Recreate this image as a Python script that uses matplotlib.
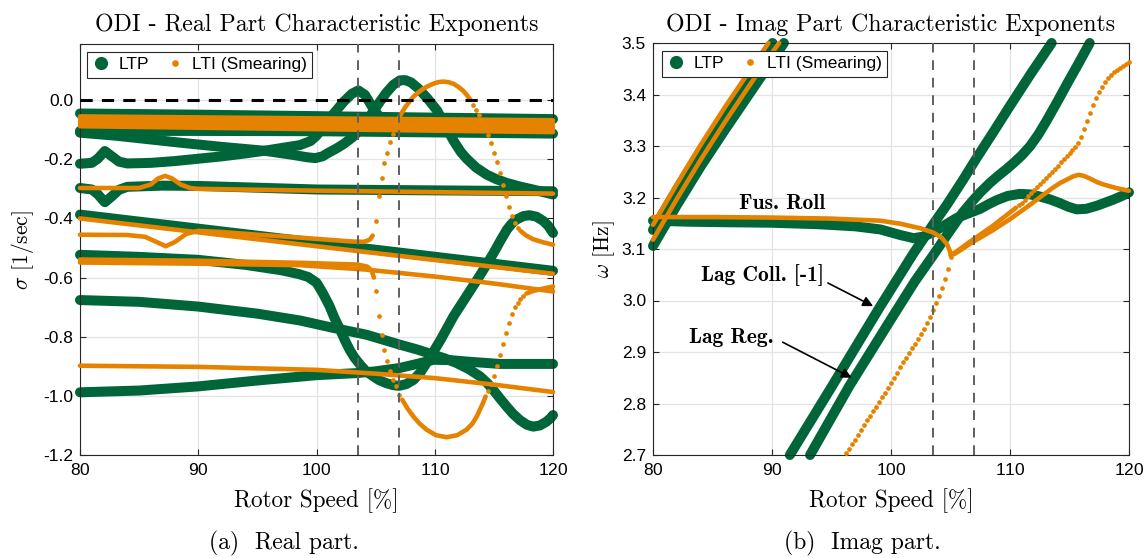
import matplotlib
matplotlib.use("Agg")
import matplotlib.pyplot as plt
from matplotlib.lines import Line2D
from matplotlib.ticker import FormatStrFormatter, FixedLocator

plt.rcParams['mathtext.fontset'] = 'cm'
plt.rcParams['axes.unicode_minus'] = False
plt.rcParams['axes.formatter.use_mathtext'] = True

GREEN = '#00663a'
ORANGE = '#e58300'

# ---------------- LEFT PANEL (real part, sigma) ----------------
# LTP branches
ltp_top_x = [80, 90, 100, 110, 120]
ltp_top_y = [-0.045, -0.049, -0.054, -0.059, -0.064]
ltp_top2_x = [80, 90, 100, 110, 120]
ltp_top2_y = [-0.104, -0.104, -0.105, -0.109, -0.113]
ltp_v_x = [80, 83, 86, 88.3, 92, 95.6, 98, 99.2, 99.9, 100.5, 101, 101.7, 102.3, 103.0, 103.7,
           104.3, 104.8, 105.4, 105.9, 106.5, 107.06, 107.5, 108.0, 108.6, 109.4, 110.2, 110.8,
           111.6, 112.2, 112.7, 113.5, 114.4, 115.2, 116.1, 117.2, 118.3, 119.2, 120]
ltp_v_y = [-0.11, -0.12, -0.133, -0.143, -0.158, -0.171, -0.185, -0.193, -0.196, -0.19, -0.178,
           -0.163, -0.148, -0.127, -0.1, -0.068, -0.037, -0.003, 0.025, 0.052, 0.067, 0.068, 0.06,
           0.04, 0.005, -0.035, -0.08, -0.138, -0.175, -0.198, -0.228, -0.252, -0.267, -0.28,
           -0.292, -0.302, -0.311, -0.319]
ltp_hump_x = [80, 81, 81.5, 82.1, 82.7, 83.3, 84, 86, 88, 90, 92, 94, 95.6, 97, 98.6, 99.5, 100.0,
              100.7, 101.4, 102.3, 103.0, 103.54, 104.1, 104.67, 105.2, 105.8, 106.5]
ltp_hump_y = [-0.215, -0.212, -0.198, -0.172, -0.19, -0.208, -0.214, -0.212, -0.206, -0.198, -0.19,
              -0.18, -0.171, -0.162, -0.152, -0.138, -0.12, -0.085, -0.048, -0.005, 0.022, 0.033,
              0.018, -0.02, -0.05, -0.068, -0.08]
ltp_m30_x = [80, 81, 81.5, 82.1, 82.7, 83.3, 84, 87, 90, 95, 100, 110, 120]
ltp_m30_y = [-0.297, -0.302, -0.318, -0.345, -0.325, -0.303, -0.293, -0.289, -0.29, -0.296, -0.302,
             -0.305, -0.308]
ltp_l1_x = [80, 100, 120]
ltp_l1_y = [-0.387, -0.482, -0.577]
ltp_dive_x = [80, 85, 90, 94, 97, 98.5, 99.3, 100, 100.5, 101.1, 101.5, 102, 102.4, 102.8, 103.2,
              103.7, 104.2, 104.8, 105.3, 105.9, 106.5, 107, 107.6, 108.2, 108.8, 109.3, 109.9,
              110.5, 111.6, 112.7, 113.8, 114.4, 115, 115.6, 116.1, 116.5, 116.9, 117.5, 118,
              118.6, 119.2, 119.6, 120]
ltp_dive_y = [-0.523, -0.53, -0.54, -0.557, -0.575, -0.588, -0.598, -0.617, -0.65, -0.696, -0.735,
              -0.776, -0.812, -0.844, -0.87, -0.895, -0.917, -0.934, -0.947, -0.957, -0.964,
              -0.966, -0.96, -0.946, -0.92, -0.889, -0.85, -0.81, -0.73, -0.662, -0.594, -0.555,
              -0.515, -0.472, -0.438, -0.418, -0.404, -0.392, -0.389, -0.394, -0.409, -0.425,
              -0.449]
ltp_b_x = [80, 85, 90, 95, 98.6, 101.4, 104.2, 107.06, 108.5, 109.9, 110.9, 111.85, 112.9, 113.83,
           114.4, 114.95, 115.5, 116.08, 116.6, 117.2, 117.8, 118.33, 118.9, 119.46, 119.8, 120]
ltp_b_y = [-0.676, -0.682, -0.698, -0.722, -0.745, -0.77, -0.793, -0.827, -0.843, -0.861, -0.874,
           -0.889, -0.91, -0.934, -0.955, -0.98, -1.008, -1.036, -1.06, -1.082, -1.098, -1.104,
           -1.1, -1.087, -1.075, -1.065]
ltp_c_x = [80, 85, 90, 95, 100, 103.4, 105, 107, 108.5, 109.9, 111.3, 112.7, 115.5, 120]
ltp_c_y = [-0.988, -0.982, -0.968, -0.948, -0.93, -0.923, -0.917, -0.906, -0.892, -0.878, -0.879,
           -0.884, -0.892, -0.892]

# LTI (smearing) branches
lti_top_x = [80, 120]
lti_top1_y = [-0.055, -0.068]
lti_top2_y = [-0.063, -0.078]
lti_top3_y = [-0.072, -0.089]
lti_top4_y = [-0.080, -0.099]
lti_top5_y = [-0.088, -0.108]
lti_m30_x = [80, 85, 86, 86.6, 87.2, 87.8, 88.5, 89.3, 90, 100, 110, 120]
lti_m30_y = [-0.297, -0.297, -0.285, -0.265, -0.256, -0.265, -0.285, -0.297, -0.300, -0.306,
             -0.311, -0.316]
lti_l1_x = [80, 100, 120]
lti_l1_y = [-0.40, -0.494, -0.587]
lti_loop1_x = [80, 84, 85.5, 86.5, 87.25, 88, 89, 90, 92, 95, 98, 101, 103, 104, 104.5, 104.75]
lti_loop1_y = [-0.455, -0.456, -0.462, -0.48, -0.494, -0.48, -0.452, -0.442, -0.446, -0.455,
               -0.463, -0.472, -0.478, -0.479, -0.472, -0.458]
lti_loopdots1_x = [105.0, 105.25, 105.5, 105.75, 106.0, 106.25, 106.5, 106.75]
lti_loopdots1_y = [-0.409, -0.324, -0.262, -0.214, -0.177, -0.143, -0.115, -0.086]
lti_loop2_x = [107.0, 107.25, 107.5, 107.85, 108.2, 108.6, 109.0, 109.45, 109.9, 110.3, 110.7,
               111.15, 111.6, 112.0, 112.4, 112.7, 113.0]
lti_loop2_y = [-0.058, -0.04, -0.024, -0.005, 0.012, 0.026, 0.038, 0.048, 0.056, 0.061, 0.063,
               0.061, 0.055, 0.045, 0.032, 0.018, 0.002]
lti_loopdots2_x = [113.25, 113.5, 113.75, 114.0, 114.25, 114.5, 114.75, 115.0, 115.25, 115.5,
                   115.75, 116.0, 116.25, 116.5, 116.75, 117.0]
lti_loopdots2_y = [-0.017, -0.033, -0.05, -0.07, -0.093, -0.118, -0.145, -0.177, -0.209, -0.245,
                   -0.288, -0.324, -0.362, -0.392, -0.415, -0.432]
lti_loop3_x = [117.25, 117.7, 118.3, 119.2, 120]
lti_loop3_y = [-0.442, -0.457, -0.47, -0.481, -0.489]
lti_l2_x = [80, 90, 98.6, 104.2, 109.9, 115, 120]
lti_l2_y = [-0.549, -0.553, -0.558, -0.573, -0.596, -0.62, -0.647]
lti_bowl1_x = [80, 90, 98.6, 103.5, 104.3, 104.67, 104.85]
lti_bowl1_y = [-0.539, -0.543, -0.550, -0.556, -0.563, -0.576, -0.6]
lti_bowldots1_x = [105.0, 105.25, 105.5, 105.75, 106.0, 106.25, 106.5, 106.75, 107.0]
lti_bowldots1_y = [-0.645, -0.73, -0.795, -0.844, -0.883, -0.917, -0.946, -0.968, -0.997]
lti_bowl2_x = [107.25, 107.7, 108.2, 108.7, 109.3, 110.1, 111.0, 111.9, 112.7, 113.2, 113.55,
               114.05, 114.3]
lti_bowl2_y = [-1.013, -1.043, -1.07, -1.093, -1.114, -1.133, -1.14, -1.133, -1.114, -1.093,
               -1.07, -1.027, -1.002]
lti_bowldots2_x = [114.5, 114.75, 115.0, 115.25, 115.5, 115.75, 116.0, 116.25, 116.5, 116.75,
                   117.0, 117.25, 117.5]
lti_bowldots2_y = [-0.983, -0.96, -0.932, -0.899, -0.862, -0.824, -0.787, -0.752, -0.722, -0.701,
                   -0.685, -0.672, -0.662]
lti_bowl3_x = [117.75, 118.33, 119.2, 120]
lti_bowl3_y = [-0.654, -0.645, -0.637, -0.63]
lti_m90_x = [80, 90, 100, 105, 110, 115, 120]
lti_m90_y = [-0.898, -0.902, -0.912, -0.925, -0.94, -0.962, -0.987]

# ---------------- RIGHT PANEL (imag part, omega) ----------------
r_ltp_up1_x = [80, 82, 84, 86, 88, 90.05]
r_ltp_up1_y = [3.137, 3.215, 3.29, 3.36, 3.43, 3.5]
r_ltp_up2_x = [80, 82, 84, 86, 88, 90, 91.0]
r_ltp_up2_y = [3.106, 3.185, 3.26, 3.33, 3.398, 3.466, 3.5]
r_ltp_roll_x = [80, 83, 86, 90, 94, 97, 99.1, 100.8, 101.9, 102.7, 103.5, 104.5, 105.5, 106.6,
                107.5, 108.2, 108.9, 109.8, 110.8, 111.7, 112.5, 113.4, 114.2, 114.9, 115.6, 116.4,
                117.3, 118, 118.7, 119.4, 120]
r_ltp_roll_y = [3.155, 3.153, 3.152, 3.151, 3.148, 3.144, 3.138, 3.127, 3.121, 3.124, 3.132,
                3.146, 3.16, 3.17, 3.178, 3.187, 3.195, 3.203, 3.207, 3.206, 3.202, 3.196, 3.189,
                3.182, 3.177, 3.178, 3.184, 3.19, 3.196, 3.203, 3.21]
r_ltp_coll_x = [91.5, 95, 99, 101.9, 103.55, 104.7, 106.1, 107.2, 108.6, 110, 111.8, 113.5]
r_ltp_coll_y = [2.70, 2.832, 2.985, 3.092, 3.148, 3.186, 3.236, 3.277, 3.327, 3.378, 3.442, 3.5]
r_ltp_reg_x = [93.2, 96.5, 99.9, 102, 103.55, 104.7, 106, 106.8, 107.5, 108.3, 109, 109.7, 110.3,
               111, 111.7, 112.4, 113.1, 114, 114.9, 115.8, 116.7]
r_ltp_reg_y = [2.70, 2.834, 2.96, 3.037, 3.088, 3.127, 3.17, 3.192, 3.21, 3.228, 3.242, 3.255,
               3.267, 3.282, 3.3, 3.323, 3.35, 3.387, 3.425, 3.462, 3.5]

r_lti_up1_x = [80, 82, 84, 86, 88, 89.7]
r_lti_up1_y = [3.147, 3.226, 3.302, 3.374, 3.442, 3.5]
r_lti_up2_x = [80, 82, 84, 86, 88, 90, 90.6]
r_lti_up2_y = [3.118, 3.197, 3.273, 3.345, 3.414, 3.481, 3.5]
r_lti_roll_x = [80, 85, 90, 95, 98, 99.1, 100.8, 102.5, 103.55, 104.25, 104.68, 104.88, 105.0,
                105.3, 105.8, 106.5, 107.2, 108.6, 110.0, 111.4, 112.5, 113.6, 114.2, 114.8,
                115.3, 115.75, 116.2, 116.7, 117.3, 117.9, 118.5, 119.0, 120]
r_lti_roll_y = [3.162, 3.162, 3.161, 3.159, 3.156, 3.155, 3.149, 3.14, 3.132, 3.122, 3.11, 3.1,
                3.092, 3.09, 3.097, 3.108, 3.118, 3.137, 3.158, 3.181, 3.2, 3.219, 3.228, 3.235,
                3.241, 3.244, 3.242, 3.237, 3.23, 3.225, 3.221, 3.218, 3.213]
r_lti_lag_x = [96.25, 96.5, 96.75, 97.0, 97.25, 97.5, 97.75, 98.0, 98.25, 98.5, 98.75, 99.0,
               99.25, 99.5, 99.75, 100.0, 100.25, 100.5, 100.75, 101.0, 101.25, 101.5, 101.75,
               102.0, 102.25, 102.5, 102.75, 103.0, 103.25, 103.5, 103.75, 104.0, 104.25, 104.5,
               104.75, 105.0]
r_lti_lag_y = [2.703, 2.712, 2.721, 2.730, 2.739, 2.749, 2.758, 2.767, 2.776, 2.785, 2.794, 2.803,
               2.812, 2.821, 2.830, 2.840, 2.850, 2.860, 2.870, 2.880, 2.889, 2.898, 2.907, 2.916,
               2.925, 2.934, 2.945, 2.956, 2.968, 2.981, 2.995, 3.008, 3.024, 3.042, 3.062, 3.084]
r_lti_steep_x = [105.0, 105.5, 106.5, 107.5, 108.5, 109.5, 110.5]
r_lti_steep_y = [3.088, 3.095, 3.112, 3.128, 3.144, 3.162, 3.18]
r_lti_steepdots_x = [110.75, 111.0, 111.25, 111.5, 111.75, 112.0, 112.25, 112.5, 112.75, 113.0,
                     113.25, 113.5, 113.75, 114.0, 114.25, 114.5, 114.75, 115.0, 115.25, 115.5,
                     115.75, 116.0, 116.25, 116.5, 116.75, 117.0, 117.25, 117.5, 117.75, 118.0,
                     118.25, 118.5, 118.75, 119.0, 119.25, 119.5, 119.75, 120.0]
r_lti_steepdots_y = [3.185, 3.19, 3.196, 3.202, 3.208, 3.214, 3.22, 3.226, 3.232, 3.238, 3.244,
                     3.25, 3.256, 3.262, 3.268, 3.274, 3.28, 3.286, 3.292, 3.298, 3.305, 3.318,
                     3.333, 3.349, 3.365, 3.38, 3.394, 3.405, 3.415, 3.424, 3.432, 3.438, 3.443,
                     3.448, 3.452, 3.456, 3.46, 3.464]

crit_speeds = [103.5, 107.0]
left_yticks = [-1.2, -1.0, -0.8, -0.6, -0.4, -0.2, 0.0]
right_yticks = [2.7, 2.8, 2.9, 3.0, 3.1, 3.2, 3.3, 3.4, 3.5]
xticks = [80, 90, 100, 110, 120]

LTP_LW = 7.2
LTI_LW = 3.3
LTI_MS = 3.4

fig = plt.figure(figsize=(11.45, 5.58), dpi=100)
axL = fig.add_axes([80 / 1145, 103 / 558, 473 / 1145, 411 / 558])
axR = fig.add_axes([653 / 1145, 103 / 558, 476 / 1145, 412 / 558])


def ltp(ax, x, y):
    ax.plot(x, y, color=GREEN, lw=LTP_LW, solid_capstyle='round', solid_joinstyle='round',
            clip_on=False, zorder=2)


def lti(ax, x, y):
    ax.plot(x, y, color=ORANGE, lw=LTI_LW, solid_capstyle='round', solid_joinstyle='round',
            clip_on=False, zorder=3)


def lti_dots(ax, x, y):
    ax.plot(x, y, ls='none', marker='o', ms=LTI_MS, mew=0, color=ORANGE, clip_on=False, zorder=3)


# left LTP
for x, y in [(ltp_top_x, ltp_top_y), (ltp_top2_x, ltp_top2_y), (ltp_v_x, ltp_v_y),
             (ltp_hump_x, ltp_hump_y), (ltp_m30_x, ltp_m30_y), (ltp_l1_x, ltp_l1_y),
             (ltp_dive_x, ltp_dive_y), (ltp_b_x, ltp_b_y), (ltp_c_x, ltp_c_y)]:
    ltp(axL, x, y)
# left LTI
for x, y in [(lti_top_x, lti_top1_y), (lti_top_x, lti_top2_y), (lti_top_x, lti_top3_y),
             (lti_top_x, lti_top4_y), (lti_top_x, lti_top5_y),
             (lti_m30_x, lti_m30_y), (lti_l1_x, lti_l1_y), (lti_loop1_x, lti_loop1_y),
             (lti_loop2_x, lti_loop2_y), (lti_loop3_x, lti_loop3_y), (lti_l2_x, lti_l2_y),
             (lti_bowl1_x, lti_bowl1_y), (lti_bowl2_x, lti_bowl2_y), (lti_bowl3_x, lti_bowl3_y),
             (lti_m90_x, lti_m90_y)]:
    lti(axL, x, y)
for x, y in [(lti_loopdots1_x, lti_loopdots1_y), (lti_loopdots2_x, lti_loopdots2_y),
             (lti_bowldots1_x, lti_bowldots1_y), (lti_bowldots2_x, lti_bowldots2_y)]:
    lti_dots(axL, x, y)

# right LTP
for x, y in [(r_ltp_up1_x, r_ltp_up1_y), (r_ltp_up2_x, r_ltp_up2_y), (r_ltp_roll_x, r_ltp_roll_y),
             (r_ltp_coll_x, r_ltp_coll_y), (r_ltp_reg_x, r_ltp_reg_y)]:
    ltp(axR, x, y)
for x, y in [(r_lti_up1_x, r_lti_up1_y), (r_lti_up2_x, r_lti_up2_y), (r_lti_roll_x, r_lti_roll_y),
             (r_lti_steep_x, r_lti_steep_y)]:
    lti(axR, x, y)
for x, y in [(r_lti_lag_x, r_lti_lag_y), (r_lti_steepdots_x, r_lti_steepdots_y)]:
    lti_dots(axR, x, y)

# reference lines
axL.axhline(0.0, color='k', lw=2.2, ls=(0, (4, 3)), zorder=4)
for ax in (axL, axR):
    for xs in crit_speeds:
        ax.axvline(xs, color='#5f5f5f', lw=1.4, ls=(0, (5, 4)), zorder=4)

for ax, yl, yt in [(axL, (-1.2, 0.19), left_yticks), (axR, (2.7, 3.5), right_yticks)]:
    ax.set_xlim(80, 120)
    ax.set_ylim(*yl)
    ax.xaxis.set_major_locator(FixedLocator(xticks))
    ax.yaxis.set_major_locator(FixedLocator(yt))
    ax.yaxis.set_major_formatter(FormatStrFormatter('%.1f'))
    ax.grid(True, color='#e3e3e3', lw=0.9)
    ax.set_axisbelow(True)
    ax.tick_params(direction='in', length=4, width=0.8, top=True, right=True, colors='#262626',
                   labelcolor='black', pad=5)
    for lab in ax.get_xticklabels() + ax.get_yticklabels():
        lab.set_fontfamily('Liberation Sans')
        lab.set_fontsize(12.5)
    for s in ax.spines.values():
        s.set_color('#262626')
        s.set_linewidth(0.8)
    ax.set_xlabel('Rotor Speed [%]', family='cmr10', size=16.7)
    ax.xaxis.set_label_coords(0.5, -0.11)
    ax.xaxis.label.set_va('center')

axL.set_ylabel(r'$\sigma$ [1/sec]', family='cmr10', size=15.5)
axL.yaxis.set_label_coords((23 - 80) / 473, 0.5)
axR.set_ylabel(r'$\omega$ [Hz]', family='cmr10', size=15.5)
axR.yaxis.set_label_coords((604 - 653) / 476, 0.5)
for ax in (axL, axR):
    ax.yaxis.label.set_va('center')

axL.text(0.5, (455 - 25) / 411, 'ODI - Real Part Characteristic Exponents', transform=axL.transAxes,
         ha='center', va='center', family='cmr10', size=17.2)
axR.text(0.5, (455 - 25) / 412, 'ODI - Imag Part Characteristic Exponents', transform=axR.transAxes,
         ha='center', va='center', family='cmr10', size=17.2)

# legends
handles = [Line2D([], [], ls='none', marker='o', ms=9.5, mew=0, color=GREEN),
           Line2D([], [], ls='none', marker='o', ms=4.8, mew=0, color=ORANGE)]
for ax, ox in [(axL, 7 / 473), (axR, 9 / 476)]:
    leg = ax.legend(handles, ['LTP', 'LTI (Smearing)'], loc='upper left',
                    bbox_to_anchor=(ox, 1 - 8 / 411), borderaxespad=0, ncol=2, frameon=True,
                    fancybox=False, edgecolor='#262626', framealpha=1, handlelength=1.0,
                    handletextpad=0.5, columnspacing=1.0, borderpad=0.3,
                    prop=dict(family='Liberation Sans', size=12.5))
    leg.get_frame().set_linewidth(0.8)
    leg.set_zorder(6)

# annotations on the imag panel
ann = dict(family='cmb10', size=15.5, ha='center', va='center', zorder=6)
axR.text(90.84, 3.189, 'Fus. Roll', **ann)
axR.text(89.2, 3.05, 'Lag Coll. [-1]', **ann)
axR.text(86.6, 2.929, 'Lag Reg.', **ann)
arrow = dict(arrowstyle='-|>', color='k', lw=1.2, mutation_scale=15, shrinkA=0, shrinkB=0)
axR.annotate('', xy=(98.5, 2.989), xytext=(94.7, 3.034), arrowprops=arrow, zorder=6)
axR.annotate('', xy=(96.7, 2.85), xytext=(90.9, 2.919), arrowprops=arrow, zorder=6)

fig.text(284 / 1145, 1 - 543 / 558, '(a)  Real part.', ha='center', va='center', family='cmr10',
         size=17)
fig.text(862 / 1145, 1 - 543 / 558, '(b)  Imag part.', ha='center', va='center', family='cmr10',
         size=17)

fig.savefig('out.png', dpi=100)
